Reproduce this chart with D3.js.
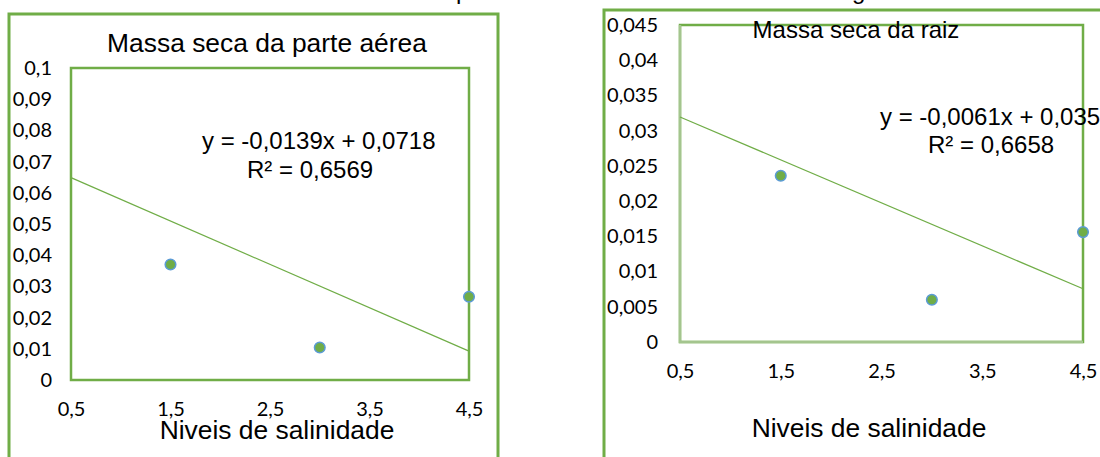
<!DOCTYPE html>
<html>
<head>
<meta charset="utf-8">
<script src="https://cdn.jsdelivr.net/npm/d3@7"></script>
<style>
  html, body { margin: 0; padding: 0; background: #fff; }
  svg { display: block; }
</style>
</head>
<body>
<svg id="chart" width="1100" height="457"></svg>
<script>
// ---- data ----
const xLevels = [1.5, 3.0, 4.5];
const aereaValues = [0.037, 0.0104, 0.0267];
const raizValues = [0.0236, 0.006, 0.0156];
const xTicks = [0.5, 1.5, 2.5, 3.5, 4.5];
const aereaYTicks = [0, 0.01, 0.02, 0.03, 0.04, 0.05, 0.06, 0.07, 0.08, 0.09, 0.1];
const raizYTicks = [0, 0.005, 0.01, 0.015, 0.02, 0.025, 0.03, 0.035, 0.04, 0.045];
const aereaTrend = { slope: -0.0139, intercept: 0.0718 };
const raizTrend = { slope: -0.0061, intercept: 0.035 };
const titles = ["Massa seca da parte aérea", "Massa seca da raiz"];
const xTitle = "Niveis de salinidade";
const aereaEq = ["y = -0,0139x + 0,0718", "R² = 0,6569"];
const raizEq = ["y = -0,0061x + 0,035", "R² = 0,6658"];

const GREEN = "#70ad47";
const BLUE = "#5b9bd5";
const svg = d3.select("#chart");
const loc = d3.formatLocale({ decimal: ",", thousands: ".", grouping: [3], currency: ["", ""] });
const fmt = loc.format("~g");

// cut-off caption fragments at top edge
svg.append("text").attr("x", 456).attr("y", -1).attr("font-family", "Liberation Sans, Arial, sans-serif")
  .attr("font-size", 24).text("p");
svg.append("text").attr("x", 852).attr("y", -1).attr("font-family", "Liberation Sans, Arial, sans-serif")
  .attr("font-size", 24).text("g");

function panel(cfg) {
  const g = svg.append("g");
  // outer frame
  g.append("rect").attr("x", cfg.frame[0]).attr("y", cfg.frame[1])
    .attr("width", cfg.frame[2]).attr("height", cfg.frame[3])
    .attr("fill", "none").attr("stroke", GREEN).attr("stroke-width", 3);

  const x = d3.scaleLinear().domain([0.5, 4.5]).range([cfg.left, cfg.right]);
  const y = d3.scaleLinear().domain([0, cfg.yMax]).range([cfg.bottom, cfg.top]);

  // plot area border
  g.append("rect").attr("x", cfg.left).attr("y", cfg.top)
    .attr("width", cfg.right - cfg.left).attr("height", cfg.bottom - cfg.top)
    .attr("fill", "none").attr("stroke", GREEN).attr("stroke-width", 2.5);
  if (cfg.paleAxes) {
    g.append("path").attr("d", `M${cfg.left},${cfg.top}V${cfg.bottom}H${cfg.right}`)
      .attr("fill", "none").attr("stroke", "#a4c58e").attr("stroke-width", 2.5);
  }

  // axes
  const ya = g.append("g").attr("transform", `translate(${cfg.left},0)`)
    .call(d3.axisLeft(y).tickValues(cfg.yTicks).tickFormat(fmt).tickSize(0).tickPadding(cfg.yPad));
  const xa = g.append("g").attr("transform", `translate(0,${cfg.bottom})`)
    .call(d3.axisBottom(x).tickValues(xTicks).tickFormat(fmt).tickSize(0).tickPadding(22));
  [ya, xa].forEach(a => {
    a.select(".domain").remove();
    a.selectAll("text").attr("font-family", "Lato, 'Open Sans', sans-serif")
      .attr("font-size", 20).attr("fill", "#000");
  });

  // trendline
  const tl = d3.line().x(d => x(d)).y(d => y(cfg.trend.slope * d + cfg.trend.intercept));
  g.append("path").datum([0.5, 4.5]).attr("d", tl)
    .attr("fill", "none").attr("stroke", GREEN).attr("stroke-width", 1.2);

  // points
  g.selectAll("circle.pt").data(xLevels.map((v, i) => [v, cfg.values[i]])).join("circle")
    .attr("class", "pt").attr("cx", d => x(d[0])).attr("cy", d => y(d[1])).attr("r", 5.3)
    .attr("fill", GREEN).attr("stroke", BLUE).attr("stroke-width", 1.5);

  const font = "Liberation Sans, Arial, sans-serif";
  // title
  g.append("text").attr("x", cfg.titlePos[0]).attr("y", cfg.titlePos[1]).attr("text-anchor", "middle")
    .attr("font-family", font).attr("font-size", cfg.titleSize).attr("fill", "#000").text(cfg.title);
  // x title
  g.append("text").attr("x", cfg.xTitlePos[0]).attr("y", cfg.xTitlePos[1]).attr("text-anchor", "middle")
    .attr("font-family", font).attr("font-size", 26.4).attr("fill", "#000").text(xTitle);
  // equation
  g.append("text").attr("x", cfg.eqPos[0]).attr("y", cfg.eqPos[1])
    .attr("font-family", font).attr("font-size", 24).attr("fill", "#000").text(cfg.eq[0]);
  g.append("text").attr("x", cfg.r2Pos[0]).attr("y", cfg.r2Pos[1])
    .attr("font-family", font).attr("font-size", 24).attr("fill", "#000").text(cfg.eq[1]);
}

panel({
  frame: [9, 14, 489, 470],
  left: 71, right: 469, top: 68, bottom: 380,
  yMax: 0.1, yTicks: aereaYTicks, yPad: 19,
  values: aereaValues, trend: aereaTrend,
  title: titles[0], titlePos: [267, 52], titleSize: 26.4,
  xTitlePos: [277, 439],
  eq: aereaEq, eqPos: [202, 149], r2Pos: [247, 178]
});

panel({
  frame: [604, 10, 530, 470],
  left: 680, right: 1083, top: 25, bottom: 342,
  yMax: 0.045, yTicks: raizYTicks, yPad: 22, paleAxes: true,
  values: raizValues, trend: raizTrend,
  title: titles[1], titlePos: [856, 38], titleSize: 24,
  xTitlePos: [869, 437],
  eq: raizEq, eqPos: [880, 125], r2Pos: [928, 153]
});
</script>
</body>
</html>
